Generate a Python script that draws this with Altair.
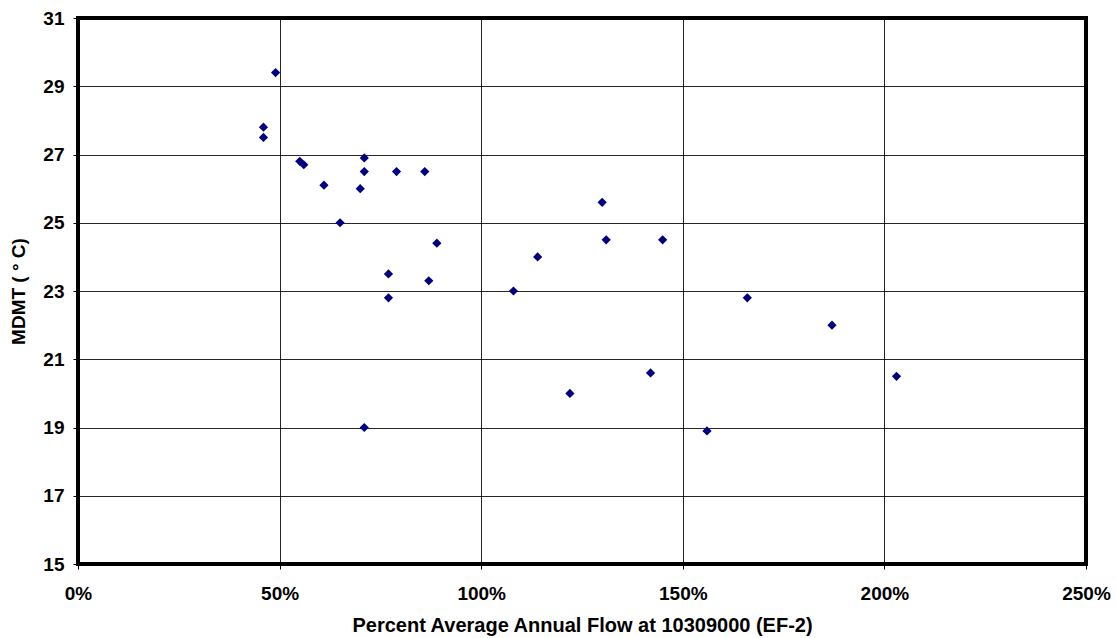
import altair as alt
import pandas as pd

# Percent of average annual flow (as fraction) and MDMT (deg C)
flow_pct = [0.46, 0.46, 0.49, 0.55, 0.56, 0.61, 0.65, 0.70, 0.71, 0.71, 0.71,
            0.77, 0.77, 0.79, 0.86, 0.87, 0.89, 1.08, 1.14, 1.22, 1.30, 1.31,
            1.42, 1.45, 1.56, 1.66, 1.87, 2.03]
mdmt = [27.8, 27.5, 29.4, 26.8, 26.7, 26.1, 25.0, 26.0, 26.9, 26.5, 19.0,
        23.5, 22.8, 26.5, 26.5, 23.3, 24.4, 23.0, 24.0, 20.0, 25.6, 24.5,
        20.6, 24.5, 18.9, 22.8, 22.0, 20.5]

x_ticks = [0, 0.5, 1.0, 1.5, 2.0, 2.5]
y_ticks = [15, 17, 19, 21, 23, 25, 27, 29, 31]

df = pd.DataFrame({"flow": flow_pct, "mdmt": mdmt})

FONT = "Liberation Sans"

chart = alt.Chart(df).mark_point(
    shape="diamond", filled=True, color="#000080", opacity=1, size=85
).encode(
    x=alt.X("flow:Q",
            scale=alt.Scale(domain=[0, 2.5], nice=False, zero=False),
            axis=alt.Axis(values=x_ticks, format=".0%",
                          title="Percent Average Annual Flow at 10309000 (EF-2)",
                          titleFontSize=20,
                          labelPadding=15, titlePadding=12)),
    y=alt.Y("mdmt:Q",
            scale=alt.Scale(domain=[15, 31], nice=False, zero=False),
            axis=alt.Axis(values=y_ticks, format="d",
                          title="MDMT ( \u00b0 C)",
                          labelPadding=9, titlePadding=14)),
).properties(
    width=1008, height=546,
    background="white",
    autosize=alt.AutoSizeParams(type="none"),
    padding={"left": 78, "top": 18, "right": 31, "bottom": 74},
).configure_view(
    stroke="black", strokeWidth=4
).configure_axis(
    domain=False,
    grid=True, gridColor="#000000", gridWidth=1, gridOpacity=0.85,
    ticks=True, tickColor="#000000", tickSize=5, tickWidth=1,
    labelFont=FONT, labelFontSize=19, labelFontWeight="bold", labelColor="#000000",
    titleFont=FONT, titleFontSize=19, titleFontWeight="bold", titleColor="#000000",
    labelFlush=False, labelOverlap=False,
)

chart.save("out.html", embed_options={"renderer": "svg", "actions": False})
